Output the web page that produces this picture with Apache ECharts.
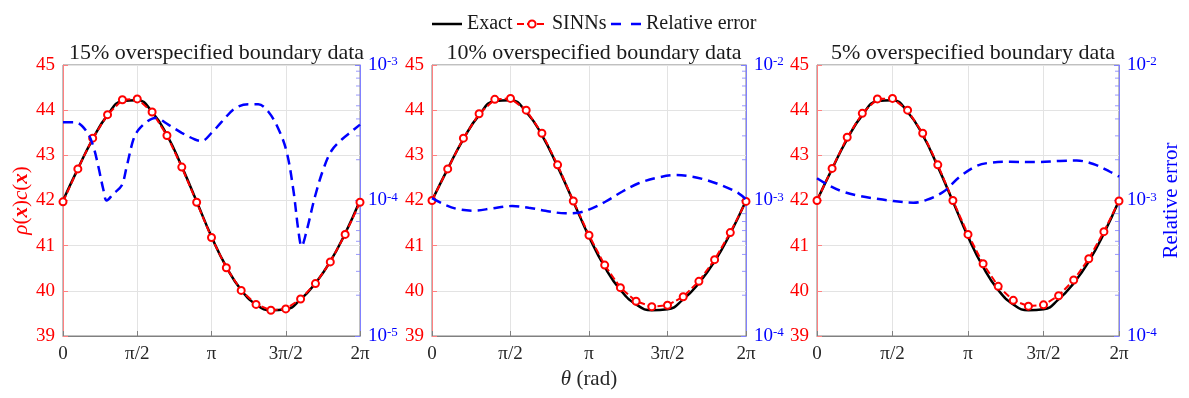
<!DOCTYPE html>
<html>
<head>
<meta charset="utf-8">
<script src="https://cdn.jsdelivr.net/npm/echarts@6/dist/echarts.min.js"></script>
<style>
html,body{margin:0;padding:0;background:#fff;}
#chart{width:1189px;height:398px;}
</style>
</head>
<body>
<div id="chart"></div>
<script>
// ---------- data (theta in units of pi) ----------
const panelTitles = ['15% overspecified boundary data', '10% overspecified boundary data', '5% overspecified boundary data'];
const legendNames = ['Exact', 'SINNs', 'Relative error'];
const xTickValues = [0, 0.5, 1, 1.5, 2];
const xTickLabels = ['0', 'π/2', 'π', '3π/2', '2π'];
const markerTheta = [0, 0.1, 0.2, 0.3, 0.4, 0.5, 0.6, 0.7, 0.8, 0.9, 1.0, 1.1, 1.2, 1.3, 1.4, 1.5, 1.6, 1.7, 1.8, 1.9, 2.0];

const exactValues = [42.00, 42.70, 43.36, 43.89, 44.20, 44.22, 43.96, 43.45, 42.75, 41.98, 41.20, 40.53, 40.02, 39.70, 39.57, 39.59, 39.81, 40.17, 40.65, 41.27, 42.00];

const sinn15 = [41.97, 42.70, 43.38, 43.90, 44.23, 44.25, 43.96, 43.44, 42.74, 41.96, 41.18, 40.51, 40.01, 39.70, 39.57, 39.60, 39.82, 40.16, 40.64, 41.25, 41.96];
const sinn10 = [42.00, 42.70, 43.38, 43.92, 44.24, 44.26, 44.00, 43.49, 42.79, 41.99, 41.23, 40.57, 40.07, 39.77, 39.65, 39.68, 39.87, 40.21, 40.69, 41.29, 41.98];
const sinn5 = [42.00, 42.71, 43.40, 43.93, 44.25, 44.26, 44.00, 43.49, 42.79, 42.00, 41.25, 40.60, 40.10, 39.79, 39.66, 39.69, 39.89, 40.24, 40.71, 41.31, 41.99];

const errTheta15 = [0, 0.081, 0.159, 0.204, 0.238, 0.272, 0.294, 0.339, 0.395, 0.429, 0.474, 0.507, 0.563, 0.620, 0.709, 0.799, 0.889, 0.934, 1.001, 1.068, 1.158, 1.248, 1.315, 1.383, 1.450, 1.506, 1.551, 1.585, 1.607, 1.641, 1.697, 1.753, 1.809, 1.877, 1.944, 2.0];
const errValues15 = [3.78e-4, 3.78e-4, 3.24e-4, 2.51e-4, 1.78e-4, 1.20e-4, 1.00e-4, 1.12e-4, 1.29e-4, 1.78e-4, 2.82e-4, 3.31e-4, 3.80e-4, 4.07e-4, 3.63e-4, 3.16e-4, 2.82e-4, 2.75e-4, 3.16e-4, 3.80e-4, 4.79e-4, 5.13e-4, 5.13e-4, 4.52e-4, 3.39e-4, 2.29e-4, 1.20e-4, 6.0e-5, 4.6e-5, 6.0e-5, 1.07e-4, 1.70e-4, 2.34e-4, 2.82e-4, 3.24e-4, 3.63e-4];

const errTheta10 = [0, 0.085, 0.170, 0.276, 0.382, 0.510, 0.616, 0.722, 0.849, 0.934, 1.019, 1.104, 1.210, 1.316, 1.444, 1.550, 1.656, 1.762, 1.868, 1.953, 2.0];
const errValues10 = [1.04e-3, 9.27e-4, 8.61e-4, 8.41e-4, 8.75e-4, 9.10e-4, 8.85e-4, 8.41e-4, 8.04e-4, 8.13e-4, 8.75e-4, 9.79e-4, 1.16e-3, 1.34e-3, 1.48e-3, 1.54e-3, 1.50e-3, 1.40e-3, 1.26e-3, 1.13e-3, 1.02e-3];

const errTheta5 = [0, 0.086, 0.174, 0.285, 0.395, 0.506, 0.638, 0.726, 0.837, 0.947, 1.057, 1.146, 1.278, 1.455, 1.609, 1.720, 1.830, 1.940, 2.0];
const errValues5 = [1.46e-3, 1.28e-3, 1.16e-3, 1.08e-3, 1.03e-3, 9.91e-4, 9.64e-4, 1.01e-3, 1.16e-3, 1.50e-3, 1.80e-3, 1.90e-3, 1.93e-3, 1.92e-3, 1.96e-3, 1.97e-3, 1.86e-3, 1.63e-3, 1.50e-3];

const leftTicks = [39, 40, 41, 42, 43, 44, 45];
const rightRanges = [[1e-5, 1e-3], [1e-4, 1e-2], [1e-4, 1e-2]];
const minorMultipliers = [2, 3, 4, 5, 6, 7, 8, 9];

// ---------- layout ----------
const FONT = '"Liberation Serif", "Times New Roman", serif';
const RED = '#ff0000', BLUE = '#0000ff';
const grids = [
  {left: 63, right: 829, top: 65, bottom: 62},
  {left: 432, right: 443, top: 65, bottom: 62},
  {left: 817, right: 70, top: 65, bottom: 62}
];
const panelCenters = [211.5, 589, 968];

const sinnAll = [sinn15, sinn10, sinn5];
const errThetaAll = [errTheta15, errTheta10, errTheta5];
const errValAll = [errValues15, errValues10, errValues5];

const xAxes = [], yAxes = [], series = [], titles = [];
grids.forEach((g, i) => {
  titles.push({
    text: panelTitles[i], left: panelCenters[i], top: 37, textAlign: 'center',
    textStyle: {fontFamily: FONT, fontSize: 22, fontWeight: 'normal', color: '#1a1a1a'}
  });
  xAxes.push({
    type: 'value', gridIndex: i, min: 0, max: 2, interval: 0.5,
    axisLine: {lineStyle: {color: '#808080', width: 1}},
    axisTick: {inside: true, length: 5, lineStyle: {color: '#808080'}},
    axisLabel: {
      margin: 9, color: '#262626', fontFamily: FONT, fontSize: 19,
      formatter: v => { const k = xTickValues.indexOf(v); return k >= 0 ? xTickLabels[k] : ''; }
    },
    splitLine: {show: true, lineStyle: {color: '#e3e3e3', width: 1}},
    name: i === 1 ? '{i|θ} (rad)' : '',
    nameLocation: 'middle', nameGap: 33,
    nameTextStyle: {fontFamily: FONT, fontSize: 21, color: '#262626',
      rich: {i: {fontFamily: FONT, fontSize: 21, fontStyle: 'italic', color: '#262626'}}}
  });
  yAxes.push({
    type: 'value', gridIndex: i, position: 'left', min: 39, max: 45, interval: 1,
    axisLine: {show: true, lineStyle: {color: '#ff8080', width: 1}},
    axisTick: {show: true, inside: true, length: 5, lineStyle: {color: '#ff8080'}},
    axisLabel: {margin: 8, color: RED, fontFamily: FONT, fontSize: 19,
      formatter: v => leftTicks.indexOf(v) >= 0 ? String(v) : ''},
    splitLine: {show: true, lineStyle: {color: '#e3e3e3', width: 1}},
    name: i === 0 ? '{i|ρ}({b|x}){i|c}({b|x})' : '',
    nameLocation: 'middle', nameRotate: 90, nameGap: 30,
    nameTextStyle: {fontFamily: FONT, fontSize: 21, color: RED,
      rich: {
        i: {fontFamily: FONT, fontSize: 21, fontStyle: 'italic', color: RED},
        b: {fontFamily: FONT, fontSize: 21, fontStyle: 'italic', fontWeight: 'bold', color: RED}
      }}
  });
  yAxes.push({
    type: 'log', logBase: 10, gridIndex: i, position: 'right',
    min: rightRanges[i][0], max: rightRanges[i][1],
    axisLine: {show: true, lineStyle: {color: '#8080ff', width: 1}},
    axisTick: {show: true, inside: true, length: 5, lineStyle: {color: '#8080ff'}},
    axisLabel: {margin: 8, color: BLUE, fontFamily: FONT,
      formatter: v => '{b|10}{s|' + Math.round(Math.log10(v)) + '}',
      rich: {
        b: {fontFamily: FONT, fontSize: 19, color: BLUE},
        s: {fontFamily: FONT, fontSize: 13, color: BLUE, verticalAlign: 'top'}
      }},
    splitLine: {show: false},
    name: i === 2 ? 'Relative error' : '',
    nameLocation: 'middle', nameRotate: 90, nameGap: 42,
    nameTextStyle: {fontFamily: FONT, fontSize: 21, color: BLUE}
  });

  const pairs = (xs, ys) => xs.map((x, k) => [x, ys[k]]);
  series.push({
    name: legendNames[0], type: 'line', xAxisIndex: i, yAxisIndex: 2 * i,
    data: pairs(markerTheta, exactValues), smooth: true, symbol: 'none',
    color: '#000', lineStyle: {color: '#000', width: 2.5}, z: 2, silent: true
  });
  series.push({
    name: legendNames[1], type: 'line', xAxisIndex: i, yAxisIndex: 2 * i,
    data: pairs(markerTheta, sinnAll[i]), smooth: false,
    symbol: 'circle', symbolSize: 7, showSymbol: true,
    color: RED,
    lineStyle: {color: RED, width: 2, type: [7, 3]},
    itemStyle: {color: '#fff', borderColor: RED, borderWidth: 2},
    z: 3, silent: true
  });
  series.push({
    name: legendNames[2], type: 'line', xAxisIndex: i, yAxisIndex: 2 * i + 1,
    data: pairs(errThetaAll[i], errValAll[i]), smooth: 0.35, symbol: 'none',
    color: BLUE, lineStyle: {color: BLUE, width: 2.5, type: [10, 6]},
    z: 4, silent: true
  });
  // minor log ticks on the right axis
  const minor = [];
  const lo = Math.round(Math.log10(rightRanges[i][0])), hi = Math.round(Math.log10(rightRanges[i][1]));
  for (let d = lo; d < hi; d++) minorMultipliers.forEach(m => minor.push([2, m * Math.pow(10, d)]));
  series.push({
    name: 'minor', type: 'scatter', xAxisIndex: i, yAxisIndex: 2 * i + 1,
    data: minor, symbol: 'rect', symbolSize: [4, 1], symbolOffset: [-2, 0],
    itemStyle: {color: '#8080ff'}, silent: true, clip: false, z: 1
  });
});

const legendText = {fontFamily: FONT, fontSize: 20, color: '#1a1a1a'};
const chart = echarts.init(document.getElementById('chart'), null, {renderer: 'canvas'});
chart.setOption({
  animation: false,
  backgroundColor: '#fff',
  title: titles,
  legend: [
    {data: [legendNames[0]], left: 427, top: 9, itemWidth: 30, itemHeight: 2.5,
      icon: 'path://M0,0H30V2.5H0Z', textStyle: legendText},
    {data: [legendNames[1]], left: 511, top: 9, itemWidth: 30, itemHeight: 9, textStyle: legendText},
    {data: [legendNames[2]], left: 606, top: 9, itemWidth: 30, itemHeight: 2.5,
      icon: 'path://M0,0H10V2.5H0Z M20,0H30V2.5H20Z', textStyle: legendText}
  ],
  grid: grids.map(g => Object.assign({show: true, borderColor: '#808080', borderWidth: 1, backgroundColor: 'transparent', containLabel: false}, g)),
  xAxis: xAxes,
  yAxis: yAxes,
  series: series
});
</script>
</body>
</html>
